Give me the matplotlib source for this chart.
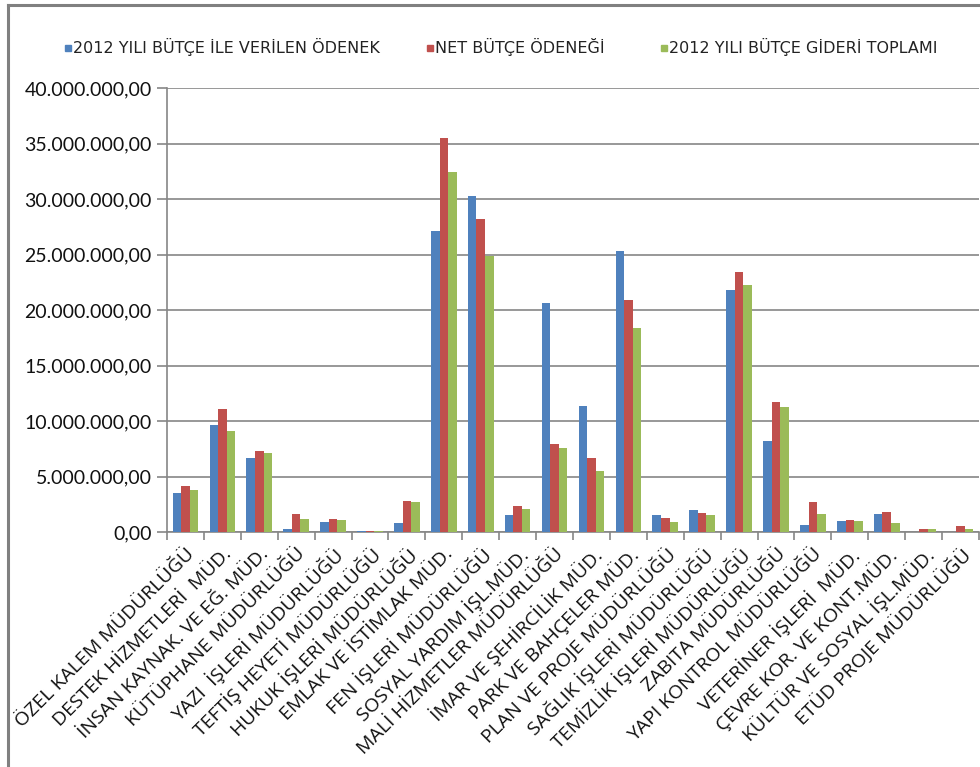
import numpy as np
import matplotlib
matplotlib.use("Agg")
import matplotlib.pyplot as plt
from matplotlib.lines import Line2D
from matplotlib.patches import Rectangle
from matplotlib.ticker import FuncFormatter, MultipleLocator, FixedLocator

# units / departments
categories = [
    "ÖZEL KALEM MÜDÜRLÜĞÜ", "DESTEK HİZMETLERİ  MÜD.", "İNSAN KAYNAK. VE EĞ. MÜD.",
    "KÜTÜPHANE MÜDÜRLÜĞÜ", "YAZI  İŞLERİ MÜDÜRLÜĞÜ", "TEFTİŞ HEYETİ MÜDÜRLÜĞÜ",
    "HUKUK İŞLERİ MÜDÜRLÜĞÜ", "EMLAK VE İSTİMLAK MÜD.", "FEN İŞLERİ MÜDÜRLÜĞÜ",
    "SOSYAL YARDIM İŞL.MÜD.", "MALİ HİZMETLER MÜDÜRLÜĞÜ", "İMAR VE ŞEHİRCİLİK MÜD.",
    "PARK VE BAHÇELER MÜD.", "PLAN VE PROJE MÜDÜRLÜĞÜ", "SAĞLIK İŞLERİ MÜDÜRLÜĞÜ",
    "TEMİZLİK İŞLERİ MÜDÜRLÜĞÜ", "ZABITA MÜDÜRLÜĞÜ", "YAPI KONTROL MÜDÜRLÜĞÜ",
    "VETERİNER İŞLERİ  MÜD.", "ÇEVRE KOR. VE KONT.MÜD.", "KÜLTÜR VE SOSYAL İŞL.MÜD.",
    "ETÜD PROJE MÜDÜRLÜĞÜ",
]

series_names = ["2012 YILI BÜTÇE İLE VERİLEN ÖDENEK", "NET BÜTÇE ÖDENEĞİ",
                "2012 YILI BÜTÇE GİDERİ TOPLAMI"]

# values in millions TL
verilen = [3.52, 9.64, 6.63, 0.24, 0.94, 0.13, 0.85, 27.15, 30.26, 1.54, 20.66,
           11.38, 25.30, 1.54, 2.02, 21.80, 8.17, 0.60, 0.97, 1.66, 0.0, 0.0]
net = [4.10, 11.06, 7.32, 1.66, 1.21, 0.13, 2.83, 35.47, 28.20, 2.35, 7.92,
       6.63, 20.90, 1.30, 1.75, 23.43, 11.74, 2.68, 1.08, 1.78, 0.24, 0.51]
gider = [3.74, 9.07, 7.08, 1.21, 1.06, 0.13, 2.68, 32.47, 24.84, 2.11, 7.56,
         5.48, 18.34, 0.94, 1.54, 22.29, 11.26, 1.66, 0.97, 0.85, 0.24, 0.24]

colors = ["#4F81BD", "#C0504D", "#9BBB59"]
GRID = "#868686"

W, H = 980, 767
fig = plt.figure(figsize=(W / 100, H / 100), dpi=100)
ax = fig.add_axes([167 / W, 1 - 532 / H, 812 / W, 444 / H])

x = np.arange(len(categories))
bw = 0.232
for i, vals in enumerate([verilen, net, gider]):
    ax.bar(x + (i - 1) * bw, np.array(vals) * 1e6, width=bw, color=colors[i],
           linewidth=0, zorder=3)

ax.set_xlim(-0.5, len(categories) - 0.5)
ax.set_ylim(0, 40e6)
ax.yaxis.set_major_locator(MultipleLocator(5e6))
ax.yaxis.set_major_formatter(FuncFormatter(
    lambda v, p: "{:,.2f}".format(v).replace(",", "X").replace(".", ",").replace("X", ".")))
ax.grid(axis="y", color=GRID, linewidth=1.2, zorder=0)
for s in ["top", "right"]:
    ax.spines[s].set_visible(False)
for s in ["left", "bottom"]:
    ax.spines[s].set_color(GRID)
    ax.spines[s].set_linewidth(1.2)

ax.xaxis.set_major_locator(FixedLocator(np.arange(-0.5, len(categories), 1.0)))
ax.xaxis.set_minor_locator(FixedLocator(x))
ax.set_xticklabels([])
ax.set_xticklabels(categories, minor=True, rotation=45, ha="right", va="top",
                   rotation_mode="anchor", fontsize=14, family=["Open Sans", "DejaVu Sans"],
                   color="#111111")
ax.tick_params(axis="x", which="major", length=6, color=GRID, width=1.2)
ax.tick_params(axis="x", which="minor", length=0, pad=9)
ax.tick_params(axis="y", length=7, color=GRID, width=1.2, pad=4, labelsize=14)
for lab in ax.get_yticklabels():
    lab.set_family(["Lato", "DejaVu Sans"])
    lab.set_color("#111111")

# legend drawn by hand, laid out like the original
leg_items = [(65, series_names[0]), (427, series_names[1]), (661, series_names[2])]
for (px, name), c in zip(leg_items, colors):
    fig.patches.append(Rectangle((px / W, 1 - 51 / H), 6 / W, 6 / H, color=c,
                                 transform=fig.transFigure))
    fig.text((px + 8) / W, 1 - 47 / H, name, fontsize=11.5, va="center",
             family=["DejaVu Sans"], color="#222222")

# chart-area frame (top and left edge visible)
fig.lines.append(Line2D([8 / W, 8 / W], [0, 1 - 5 / H], color="#808080", linewidth=2.2,
                        transform=fig.transFigure))
fig.lines.append(Line2D([8 / W, 1], [1 - 5 / H, 1 - 5 / H], color="#808080", linewidth=2.2,
                        transform=fig.transFigure))

fig.savefig("out.png", dpi=100)
